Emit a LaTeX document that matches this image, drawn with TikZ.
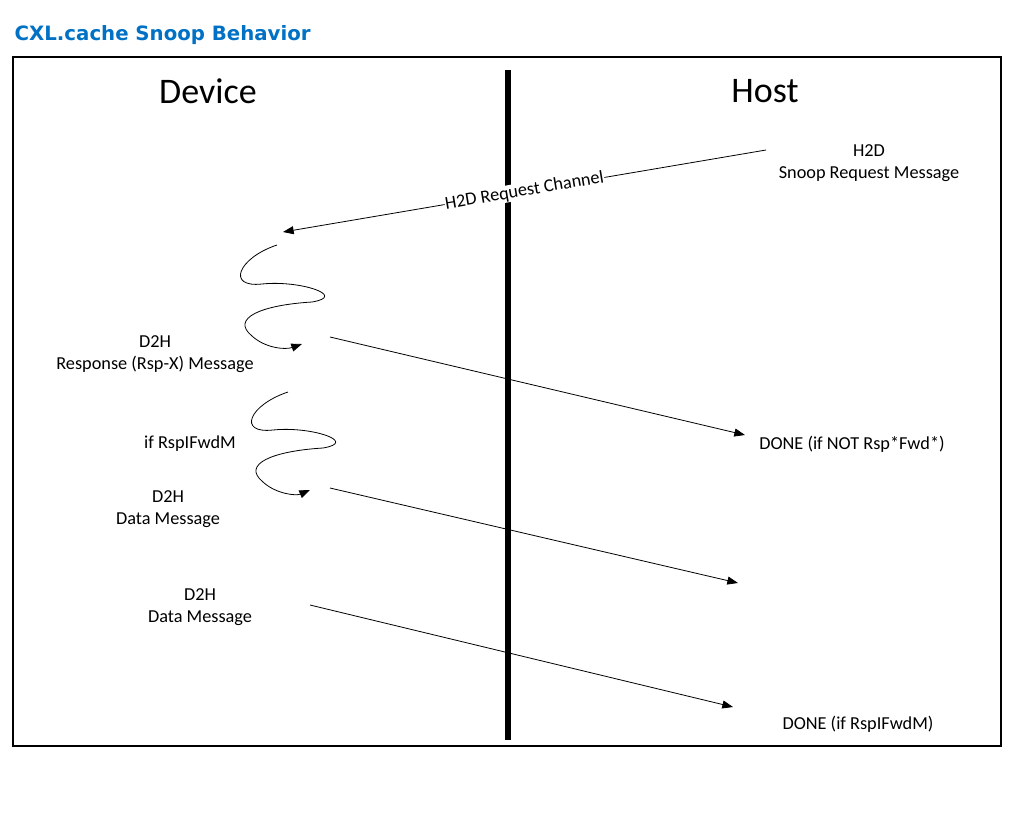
\documentclass[tikz,border=0pt]{standalone}
\usepackage{fontspec}
\setmainfont{Carlito}
\newfontfamily\titlefont{DejaVu Sans}
\usetikzlibrary{arrows.meta}
\definecolor{cxlblue}{RGB}{0,113,197}
\begin{document}
\begin{tikzpicture}[x=0.75pt,y=-0.75pt,
  lbl/.style={font=\fontsize{13.7}{16}\selectfont,align=center,inner sep=1pt},
  msg/.style={-{Triangle[length=8pt,width=6pt]},line width=0.6pt},
  squig/.style={-{Triangle[length=8pt,width=6pt]},line width=0.6pt}]
\useasboundingbox (0,0) rectangle (1020,825);
\node[anchor=west,text=cxlblue,font=\titlefont\bfseries\fontsize{14.8}{17}\selectfont] (title) at (10,35) {CXL.cache Snoop Behavior};
\draw[line width=1.3pt] (13,57) rectangle (1001,746);
\coordinate (lt) at (508,70); \coordinate (lb) at (508,740);
\draw[line width=4pt] (lt) -- (lb);
\node[font=\fontsize{27}{30}\selectfont] (dev) at (208,91) {Device};
\node[font=\fontsize{27}{30}\selectfont] (host) at (765,91) {Host};
% nodes
\node[lbl] (h2d) at (869,163) {H2D\\Snoop Request Message};
\node[lbl] (rsp) at (155,354) {D2H\\Response (Rsp-X) Message};
\node[lbl] (ifr) at (190,444) {if RspIFwdM};
\node[lbl] (d1) at (168,509) {D2H\\Data Message};
\node[lbl] (d2) at (200,607) {D2H\\Data Message};
\node[lbl] (done1) at (852,444) {DONE (if NOT Rsp*Fwd*)};
\node[lbl] (done2) at (858,724) {DONE (if RspIFwdM)};
% arrow endpoints
\coordinate (a1s) at (766,150); \coordinate (a1e) at (283,232);
\coordinate (a2s) at (330,337); \coordinate (a2e) at (745,435);
\coordinate (a3s) at (330,488); \coordinate (a3e) at (738,583);
\coordinate (a4s) at (310,605); \coordinate (a4e) at (733,707);
\draw[msg] (a1s) -- node[sloped,fill=white,lbl,inner sep=0.5pt] {H2D Request Channel} (a1e);
\draw[msg] (a2s) -- (a2e);
\draw[msg] (a3s) -- (a3e);
\draw[msg] (a4s) -- (a4e);
% squiggles
\coordinate (s1) at (277,245); \coordinate (s1e) at (302,344);
\draw[squig] (s1) .. controls (238,258) and (226,288) .. (262,284)
  .. controls (300,280) and (348,296) .. (312,302)
  .. controls (262,305) and (230,318) .. (252,336)
  .. controls (265,348) and (285,350) .. (s1e);
\coordinate (s2) at (288,392); \coordinate (s2e) at (310,490);
\draw[squig] (s2) .. controls (249,405) and (237,434) .. (273,430)
  .. controls (311,426) and (359,442) .. (323,448)
  .. controls (273,451) and (241,464) .. (263,482)
  .. controls (276,494) and (296,496) .. (s2e);
\end{tikzpicture}
\end{document}
